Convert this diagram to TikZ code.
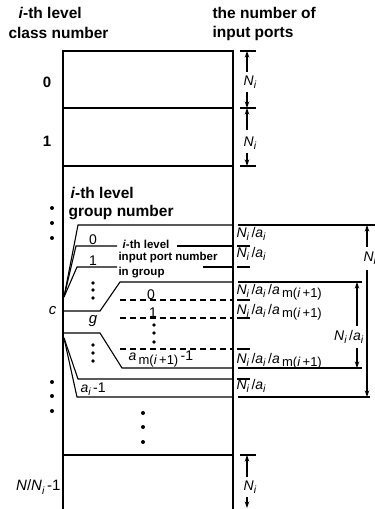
\documentclass[tikz,border=0pt]{standalone}
\usepackage{fontspec}
\setmainfont{Liberation Sans}
\usetikzlibrary{arrows.meta}

% lowered index, and the quantities that repeat
\newcommand{\lowsub}[2][10.5]{\raisebox{-0.45ex}{\fontsize{#1}{#1}\selectfont #2}}
\newcommand{\Ni}{\textit{N}\lowsub{\textit{i}}}
\newcommand{\ai}{\textit{a}\lowsub{\textit{i}}}
\newcommand{\amm}{\textit{a}\,\lowsub[13]{m(\textit{i}\,+1)}}

\begin{document}
\begin{tikzpicture}[x=1pt, y=-1pt, line width=1.1pt,
    header/.style={font=\fontsize{15.5}{17}\selectfont\bfseries, anchor=west, inner sep=0pt},
    note/.style={font=\fontsize{11.5}{13}\selectfont\bfseries, anchor=west, inner sep=0pt},
    idx/.style={font=\fontsize{15}{15}\selectfont, inner sep=0pt},
    size/.style={font=\fontsize{14}{14}\selectfont, inner sep=0pt},
    dim/.style={-{Stealth[length=6.5pt, width=4.5pt]}},
    subrow/.style={dash pattern=on 6pt off 4pt},
    bigdot/.style={circle, fill, inner sep=0pt, minimum size=4pt},
    smalldot/.style={circle, fill, inner sep=0pt, minimum size=3.6pt}]

  \useasboundingbox (0,0) rectangle (375,509);

  % === Column headers ===
  \node[header] (lvlhead) at (18,13) {\textit{i}-th level};
  \node[header] (clshead) at (8,33) {class number};
  \node[header] (numhead) at (212,13) {the number of};
  \node[header] (porthead) at (212,33) {input ports};

  % === Classes: the long column ===
  \draw (63,509) -- (63,51) -- (233,51) -- (233,509);
  \foreach \y in {108,166,455}
    \draw (63,\y) -- (233,\y);

  \node[idx] (cls0) at (47,82) {\textbf{0}};
  \node[idx] (cls1) at (47,141) {\textbf{1}};
  \node[idx, anchor=east] (clsc) at (57,311) {\textit{c}};
  \node[idx, anchor=east] (clslast) at (61,487) {\textit{N}/\Ni\,-1};

  \foreach \y in {208,223,238,382,396,411}
    \node[bigdot] (ldot\y) at (52,\y) {};
  \foreach \y in {413,427,442}
    \node[bigdot] (cdot\y) at (143,\y) {};

  % Class sizes
  \foreach \y in {51,108,166,455}
    \draw (240,\y) -- (256,\y);
  \draw[dim] (247,72) -- (247,51);
  \node[size] (n0) at (250,82) {\Ni};
  \draw[dim] (247,92) -- (247,108);
  \draw[dim] (247,130) -- (247,108);
  \node[size] (n1) at (250,143) {\Ni};
  \draw[dim] (247,153) -- (247,166);
  \draw[dim] (247,477) -- (247,455);
  \node[size] (nlast) at (250,487) {\Ni};
  \draw[dim] (247,497) -- (247,508);

  % === Class c split into groups ===
  \node[header] (grphead1) at (70,193) {\textit{i}-th level};
  \node[header] (grphead2) at (68,213) {group number};

  % upper fan: groups 0 and 1
  \coordinate (fanup) at (64,297);
  \draw (fanup) -- (78,225) -- (233,225);
  \draw (238,225) -- (375,225);
  \draw (fanup) -- (76,246) -- (117,246);
  \draw (177,246) -- (233,246);
  \draw (fanup) -- (77,267) -- (117,267);
  \draw (203,267) -- (233,267);
  \foreach \y in {246,267}
    \draw (237,\y) -- (250,\y);
  \node[idx, anchor=south, font=\fontsize{14}{14}\selectfont] (g0) at (93,245) {0};
  \node[idx, anchor=south, font=\fontsize{14}{14}\selectfont] (g1) at (93,266) {1};
  \node[note] (prt1) at (122,244) {\textit{i}-th level};
  \node[note] (prt2) at (118,258) {input port number};
  \node[note] (prt3) at (118,273) {in group};
  \foreach \y in {283,290,298}
    \node[smalldot] (udot\y) at (93,\y) {};

  % group g, opened into its sub-rows
  \draw (63,311) -- (100,311) -- (120,282) -- (233,282);
  \draw (238,282) -- (362,282);
  \draw (63,333) -- (100,333) -- (122,368) -- (233,368);
  \draw (238,368) -- (362,368);
  \node[idx, font=\fontsize{15}{15}\selectfont\itshape] (gg) at (93,321) {g};
  \foreach \y in {300,318,349} {
    \draw[subrow] (120,\y) -- (233,\y);
    \draw (237,\y) -- (250,\y);
  }
  \node[idx, anchor=south, font=\fontsize{14}{14}\selectfont] (s0) at (151,300) {0};
  \node[idx, anchor=south, font=\fontsize{14}{14}\selectfont] (s1) at (153,318) {1};
  \foreach \y in {325,333,342}
    \node[smalldot] (sdot\y) at (154,\y) {};
  \node[size, anchor=west] (slast) at (128,359) {\amm\,-1};

  % lower fan: last group
  \coordinate (fanlow) at (64,338);
  \draw (fanlow) -- (78,379) -- (233,379);
  \draw (237,379) -- (250,379);
  \draw (fanlow) -- (77,397) -- (233,397);
  \draw (238,397) -- (370,397);
  \foreach \y in {345,353,361}
    \node[smalldot] (ldotg\y) at (93,\y) {};
  \node[size, anchor=west] (glast) at (80,389) {\ai\,-1};

  % === Sizes of groups and sub-rows ===
  \node[size, anchor=west] (w0) at (236,234) {\Ni\,/\ai};
  \node[size, anchor=west] (w1) at (236,254) {\Ni\,/\ai};
  \node[size, anchor=west] (v0) at (236,292) {\Ni\,/\ai\,/\amm};
  \node[size, anchor=west] (v1) at (236,312) {\Ni\,/\ai\,/\amm};
  \node[size, anchor=west] (vlast) at (236,361) {\Ni\,/\ai\,/\amm};
  \node[size, anchor=west] (wlast) at (236,386) {\Ni\,/\ai};

  % inner bracket: one group
  \draw[dim] (357,326) -- (357,282);
  \node[size, anchor=east] (wg) at (364,337) {\Ni\,/\ai};
  \draw[dim] (357,348) -- (357,368);

  % outer bracket: the whole class
  \draw[dim] (367,247) -- (367,225);
  \node[size, anchor=west] (wc) at (363,258) {\Ni};
  \draw[dim] (367,270) -- (367,397);

\end{tikzpicture}
\end{document}
